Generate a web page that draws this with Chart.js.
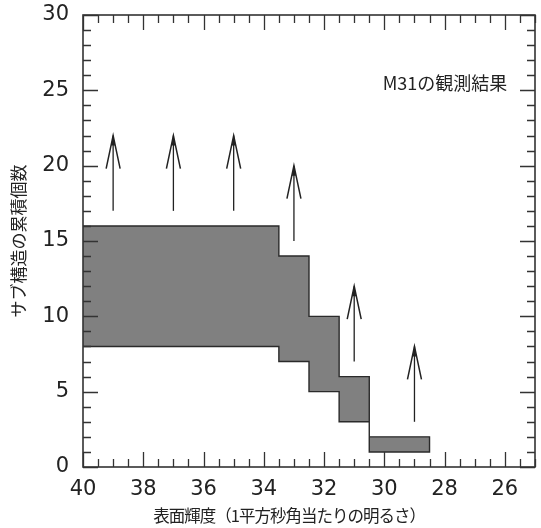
<!DOCTYPE html>
<html>
<head>
<meta charset="utf-8">
<script src="https://cdn.jsdelivr.net/npm/chart.js@4/dist/chart.umd.min.js"></script>
<style>
  html, body { margin: 0; padding: 0; background: #fff; }
  #wrap { width: 541px; height: 528px; }
</style>
</head>
<body>
<div id="wrap"><canvas id="chart" width="541" height="528"></canvas></div>
<script>
// tick labels
const xTicks = [40, 38, 36, 34, 32, 30, 28, 26];
const yTicks = [0, 5, 10, 15, 20, 25, 30];

// bins of surface brightness and range of cumulative counts
const binEdges = [40, 33.5, 32.5, 31.5, 30.5, 28.5];
const upperCounts = [16, 14, 10, 6, 2];
const lowerCounts = [8, 7, 5, 3, 1];

// lower-limit arrows
const arrowX = [39, 37, 35, 33, 31, 29];
const arrowFrom = [17, 17, 17, 15, 7, 3];
const arrowTo = [22, 22, 22, 20, 12, 8];

const noteText = 'M31の観測結果';
const xTitle = '表面輝度（1平方秒角当たりの明るさ）';
const yTitle = 'サブ構造の累積個数';

const numFont = '"DejaVu Sans", sans-serif';
const jpFont = '"Noto Sans CJK JP", sans-serif';
const ink = '#222';

// closed outline of the band: along the upper bound, back along the lower one
const band = [];
upperCounts.forEach((v, i) => {
  band.push({ x: binEdges[i], y: v }, { x: binEdges[i + 1], y: v });
});
for (let i = lowerCounts.length - 1; i >= 0; i--) {
  band.push({ x: binEdges[i + 1], y: lowerCounts[i] }, { x: binEdges[i], y: lowerCounts[i] });
}

const framePlugin = {
  id: 'frame',
  afterDatasetsDraw(chart) {
    const { ctx, chartArea: a, scales: { x, y } } = chart;
    ctx.save();
    ctx.strokeStyle = '#333';
    ctx.lineWidth = 1.3;
    ctx.beginPath();
    // x ticks every 0.5, long every 2
    for (let v = 25; v <= 40; v += 0.5) {
      const px = Math.round(x.getPixelForValue(v)) + 0.5;
      const len = (v % 2 === 0) ? 15 : 8;
      ctx.moveTo(px, a.bottom); ctx.lineTo(px, a.bottom - len);
      ctx.moveTo(px, a.top); ctx.lineTo(px, a.top + len);
    }
    // y ticks every 1, long every 5
    for (let v = 0; v <= 30; v += 1) {
      const py = Math.round(y.getPixelForValue(v)) + 0.5;
      const len = (v % 5 === 0) ? 15 : 8;
      ctx.moveTo(a.left, py); ctx.lineTo(a.left + len, py);
      ctx.moveTo(a.right, py); ctx.lineTo(a.right - len, py);
    }
    ctx.stroke();
    ctx.lineWidth = 1.6;
    ctx.strokeRect(a.left, a.top, a.right - a.left, a.bottom - a.top);

    // arrows
    ctx.strokeStyle = ink;
    ctx.fillStyle = ink;
    arrowX.forEach((v, i) => {
      const px = x.getPixelForValue(v);
      const p0 = y.getPixelForValue(arrowFrom[i]);
      const p1 = y.getPixelForValue(arrowTo[i]);
      ctx.lineWidth = 1.3;
      ctx.beginPath();
      ctx.moveTo(px, p0); ctx.lineTo(px, p1);
      ctx.stroke();
      ctx.lineWidth = 1.5;
      ctx.beginPath();
      ctx.moveTo(px - 7, p1 + 33); ctx.lineTo(px, p1); ctx.lineTo(px + 7, p1 + 33);
      ctx.stroke();
      ctx.beginPath();
      ctx.moveTo(px, p1); ctx.lineTo(px - 2, p1 + 10); ctx.lineTo(px + 2, p1 + 10);
      ctx.closePath();
      ctx.fill();
    });

    // note
    ctx.font = '18px ' + jpFont;
    ctx.textAlign = 'right';
    ctx.textBaseline = 'middle';
    ctx.fillText(noteText, x.getPixelForValue(25.92), y.getPixelForValue(25.5));

    // x axis title (sits a little left of centre in the original)
    ctx.font = '16.5px ' + jpFont;
    ctx.letterSpacing = '-1px';
    ctx.textAlign = 'center';
    ctx.fillText(xTitle, x.getPixelForValue(33.16), chart.height - 12);
    ctx.restore();
  }
};

new Chart(document.getElementById('chart'), {
  type: 'scatter',
  data: {
    datasets: [
      {
        label: 'band',
        data: band,
        showLine: true,
        fill: 'shape',
        backgroundColor: '#808080',
        borderColor: '#2a2a2a',
        borderWidth: 1.4,
        pointRadius: 0,
        tension: 0
      }
    ]
  },
  options: {
    responsive: false,
    animation: false,
    events: [],
    layout: { padding: { top: 15, right: 6, left: 0, bottom: 0 } },
    plugins: { legend: { display: false }, tooltip: { enabled: false } },
    scales: {
      x: {
        type: 'linear',
        reverse: true,
        min: 25,
        max: 40,
        grid: { display: false, drawTicks: false },
        border: { display: false },
        afterBuildTicks: (s) => { s.ticks = xTicks.map(v => ({ value: v })); },
        afterFit: (s) => {
          s.height = 61;
          s.paddingLeft = 0; s.paddingRight = 0;
        },
        ticks: {
          color: ink,
          padding: 10,
          maxRotation: 0,
          autoSkip: false,
          font: { family: numFont, size: 21 }
        }
      },
      y: {
        type: 'linear',
        min: 0,
        max: 30,
        grid: { display: false, drawTicks: false },
        border: { display: false },
        afterBuildTicks: (s) => { s.ticks = yTicks.map(v => ({ value: v })); },
        afterFit: (s) => {
          s.width = 83;
          s.paddingTop = 0; s.paddingBottom = 0;
        },
        ticks: {
          color: ink,
          padding: 14,
          autoSkip: false,
          font: { family: numFont, size: 21 }
        },
        title: {
          display: true,
          text: yTitle,
          color: ink,
          padding: { top: 8, bottom: 0 },
          font: { family: jpFont, size: 17 }
        }
      }
    }
  },
  plugins: [framePlugin]
});
</script>
</body>
</html>
